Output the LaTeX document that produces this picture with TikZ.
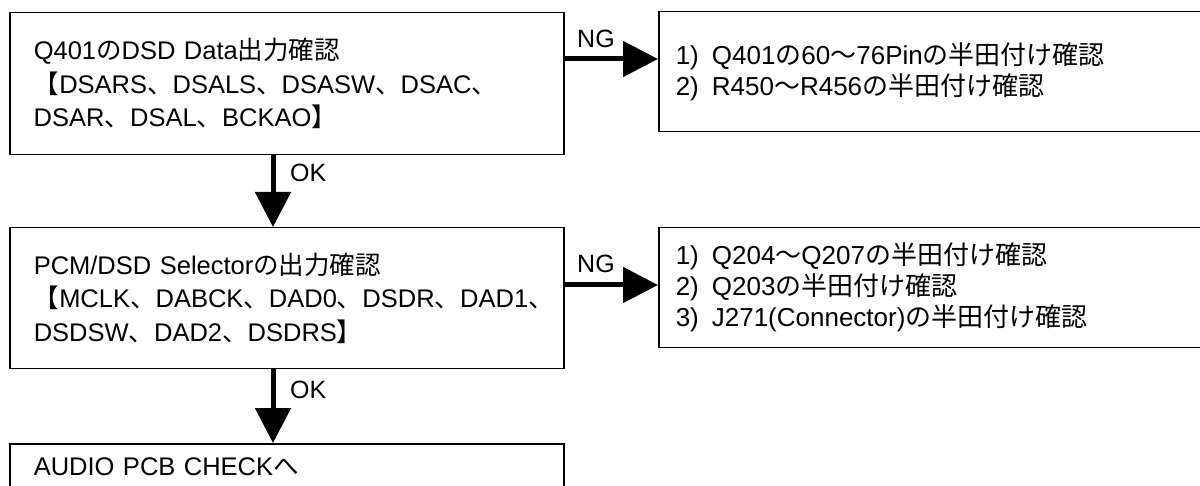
\documentclass[tikz,border=0pt]{standalone}
\usepackage{fontspec}
\setmainfont{Liberation Sans}
\newfontfamily\jp{Noto Sans CJK JP}
\newcommand{\J}[1]{{\jp #1}}
\usetikzlibrary{arrows.meta}
\begin{document}
\begin{tikzpicture}[x=1pt,y=-1pt,
  lbox/.style={draw, line width=1.5pt, anchor=north west, inner xsep=24pt, inner ysep=0pt,
    text width=506pt, minimum width=554pt, align=left, font=\fontsize{25.5}{33.5}\selectfont},
  rbox/.style={draw, line width=1.5pt, anchor=north west, inner xsep=17pt, inner ysep=0pt,
    text width=511pt, minimum width=545pt, minimum height=120pt, align=left, font=\fontsize{26}{31}\selectfont},
  flow/.style={line width=5pt, -{Triangle[length=35pt,width=35pt]}},
  lbl/.style={font=\fontsize{25}{28}\selectfont, inner sep=0pt}]
\clip (0,0) rectangle (1200,486);
\node[lbox, minimum height=142pt] (b1) at (9,12)
  {Q401\J{の}DSD Data\J{出力確認}\\\J{【}DSARS\J{、}DSALS\J{、}DSASW\J{、}DSAC\J{、}\\DSAR\J{、}DSAL\J{、}BCKAO\J{】}};
\node[lbox, minimum height=141pt] (b2) at (9,227)
  {PCM/DSD Selector\J{の出力確認}\\\J{【}MCLK\J{、}DABCK\J{、}DAD0\J{、}DSDR\J{、}DAD1\J{、}\\DSDSW\J{、}DAD2\J{、}DSDRS\J{】}};
\node[lbox, minimum height=46pt] (b3) at (9,443) {AUDIO PCB CHECK\J{へ}};
\node[rbox] (r1) at (658,11)
  {1)\hspace{13pt}Q401\J{の}60\J{〜}76Pin\J{の半田付け確認}\\2)\hspace{13pt}R450\J{〜}R456\J{の半田付け確認}};
\node[rbox] (r2) at (658,227)
  {1)\hspace{13pt}Q204\J{〜}Q207\J{の半田付け確認}\\2)\hspace{13pt}Q203\J{の半田付け確認}\\3)\hspace{13pt}J271(Connector)\J{の半田付け確認}};
\coordinate (ax) at (273,0);
\coordinate (n1) at (0,59);
\coordinate (n2) at (0,285);
\draw[flow] (b1.south -| ax) -- (b2.north -| ax);
\draw[flow] (b2.south -| ax) -- (b3.north -| ax);
\draw[flow] (b1.east |- n1) -- (r1.west |- n1);
\draw[flow] (b2.east |- n2) -- (r2.west |- n2);
\node[lbl, anchor=base west] (ng1) at (577,48) {NG};
\node[lbl, anchor=base west] (ng2) at (577,273) {NG};
\node[lbl, anchor=west] (ok1) at (290,173) {OK};
\node[lbl, anchor=west] (ok2) at (290,390) {OK};
\end{tikzpicture}
\end{document}
